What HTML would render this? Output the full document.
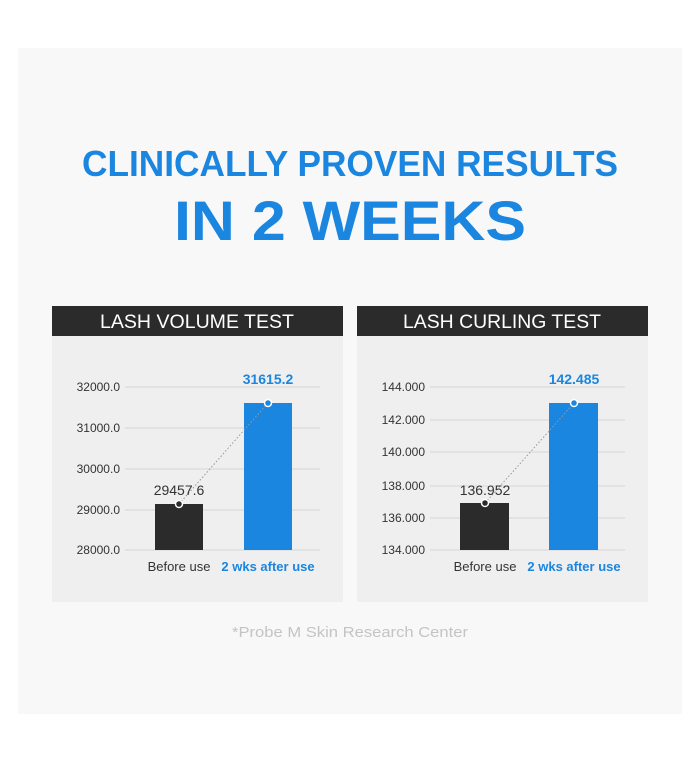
<!DOCTYPE html>
<html><head><style>html,body{margin:0;padding:0;background:#fff}</style></head>
<body>
<svg width="700" height="778" xmlns="http://www.w3.org/2000/svg" font-family="Liberation Sans, sans-serif">
<rect x="0" y="0" width="700" height="778" fill="#fff"/>
<rect x="18" y="48" width="664" height="666" fill="#f8f8f8"/>
<text x="350" y="176" text-anchor="middle" font-size="36" font-weight="bold" fill="#1a86e0" textLength="536" lengthAdjust="spacingAndGlyphs">CLINICALLY PROVEN RESULTS</text>
<text x="350" y="240" text-anchor="middle" font-size="56" font-weight="bold" fill="#1a86e0" textLength="352" lengthAdjust="spacingAndGlyphs">IN 2 WEEKS</text>

<!-- Left panel -->
<rect x="52" y="306" width="291" height="296" fill="#efefef"/>
<rect x="52" y="306" width="291" height="30" fill="#2b2b2b"/>
<text x="197" y="328" text-anchor="middle" font-size="19" fill="#fff" textLength="194" lengthAdjust="spacingAndGlyphs">LASH VOLUME TEST</text>
<g stroke="#d6d6d6" stroke-width="1">
<line x1="125" y1="387" x2="320" y2="387"/><line x1="125" y1="428" x2="320" y2="428"/>
<line x1="125" y1="469" x2="320" y2="469"/><line x1="125" y1="510" x2="320" y2="510"/>
<line x1="125" y1="550" x2="320" y2="550"/></g>
<g font-size="12" fill="#333" text-anchor="end">
<text x="120" y="391">32000.0</text><text x="120" y="432">31000.0</text><text x="120" y="473">30000.0</text><text x="120" y="514">29000.0</text><text x="120" y="554">28000.0</text></g>
<rect x="155" y="504" width="48" height="46" fill="#2b2b2b"/>
<rect x="244" y="403" width="48" height="147" fill="#1a86e0"/>
<line x1="179" y1="504" x2="268" y2="403" stroke="#999" stroke-dasharray="1.5,2"/>
<circle cx="179" cy="504" r="3.5" fill="#2b2b2b" stroke="#fff" stroke-width="1.5"/>
<circle cx="268" cy="403" r="3.5" fill="#1a86e0" stroke="#fff" stroke-width="1.5"/>
<text x="179" y="495" text-anchor="middle" font-size="14" fill="#333">29457.6</text>
<text x="268" y="384" text-anchor="middle" font-size="14" font-weight="bold" fill="#1a86e0">31615.2</text>
<text x="179" y="571" text-anchor="middle" font-size="13" fill="#333">Before use</text>
<text x="268" y="571" text-anchor="middle" font-size="13" font-weight="bold" fill="#1a86e0">2 wks after use</text>

<!-- Right panel -->
<rect x="357" y="306" width="291" height="296" fill="#efefef"/>
<rect x="357" y="306" width="291" height="30" fill="#2b2b2b"/>
<text x="502" y="328" text-anchor="middle" font-size="19" fill="#fff" textLength="198" lengthAdjust="spacingAndGlyphs">LASH CURLING TEST</text>
<g stroke="#d6d6d6" stroke-width="1">
<line x1="430" y1="387" x2="625" y2="387"/><line x1="430" y1="420" x2="625" y2="420"/>
<line x1="430" y1="452" x2="625" y2="452"/><line x1="430" y1="486" x2="625" y2="486"/>
<line x1="430" y1="518" x2="625" y2="518"/><line x1="430" y1="550" x2="625" y2="550"/></g>
<g font-size="12" fill="#333" text-anchor="end">
<text x="425" y="391">144.000</text><text x="425" y="424">142.000</text><text x="425" y="456">140.000</text><text x="425" y="490">138.000</text><text x="425" y="522">136.000</text><text x="425" y="554">134.000</text></g>
<rect x="460" y="503" width="49" height="47" fill="#2b2b2b"/>
<rect x="549" y="403" width="49" height="147" fill="#1a86e0"/>
<line x1="485" y1="503" x2="574" y2="403" stroke="#999" stroke-dasharray="1.5,2"/>
<circle cx="485" cy="503" r="3.5" fill="#2b2b2b" stroke="#fff" stroke-width="1.5"/>
<circle cx="574" cy="403" r="3.5" fill="#1a86e0" stroke="#fff" stroke-width="1.5"/>
<text x="485" y="495" text-anchor="middle" font-size="14" fill="#333">136.952</text>
<text x="574" y="384" text-anchor="middle" font-size="14" font-weight="bold" fill="#1a86e0">142.485</text>
<text x="485" y="571" text-anchor="middle" font-size="13" fill="#333">Before use</text>
<text x="574" y="571" text-anchor="middle" font-size="13" font-weight="bold" fill="#1a86e0">2 wks after use</text>

<text x="350" y="637" text-anchor="middle" font-size="15" fill="#c4c4c4" textLength="236" lengthAdjust="spacingAndGlyphs">*Probe M Skin Research Center</text>
</svg>
</body></html>
